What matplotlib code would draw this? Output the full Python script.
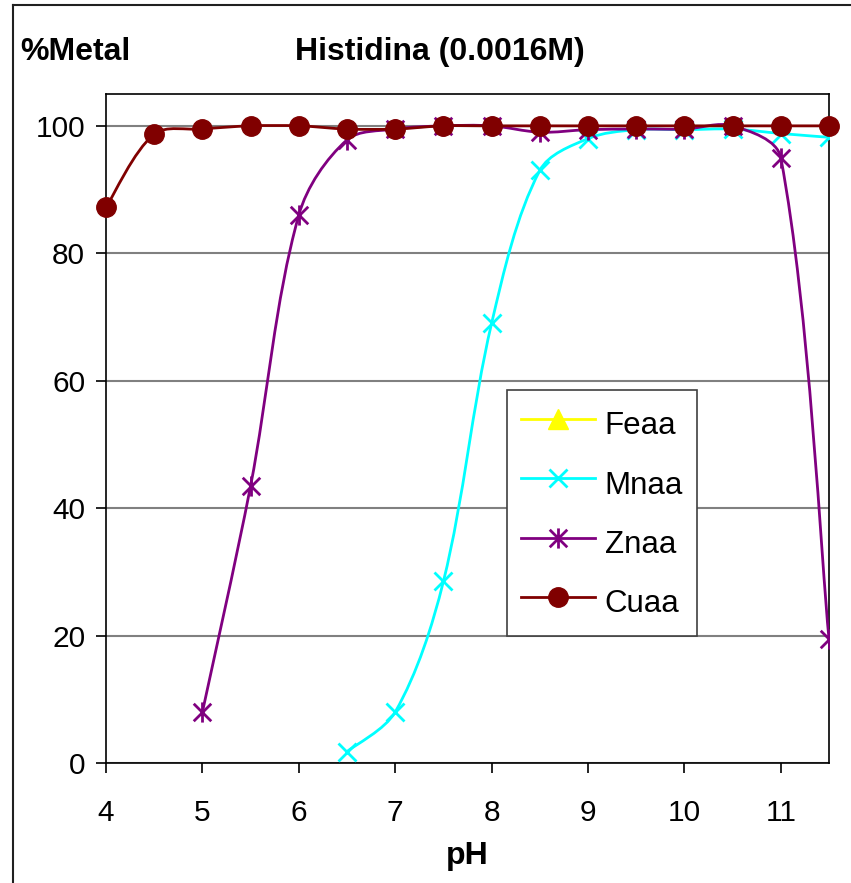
import matplotlib
matplotlib.use("Agg")
import matplotlib.pyplot as plt
import numpy as np
from matplotlib.path import Path
from matplotlib.patches import PathPatch
from matplotlib.lines import Line2D

plt.rcParams['font.family'] = ['Liberation Sans', 'DejaVu Sans']

# pH values and % metal complexed for each metal
ph_fe = []
pct_fe = []

ph_mn = [6.5, 7.0, 7.5, 8.0, 8.5, 9.0, 9.5, 10.0, 10.5, 11.0, 11.5]
pct_mn = [1.8, 8.0, 28.5, 69.0, 93.0, 98.0, 99.4, 99.4, 99.5, 98.8, 98.2]

ph_zn = [5.0, 5.5, 6.0, 6.5, 7.0, 7.5, 8.0, 8.5, 9.0, 9.5, 10.0, 10.5, 11.0, 11.5]
pct_zn = [8.0, 43.5, 86.0, 97.8, 99.5, 100.0, 100.0, 99.0, 99.4, 99.5, 99.5, 100.0, 95.0, 19.5]

ph_cu = [4.0, 4.5, 5.0, 5.5, 6.0, 6.5, 7.0, 7.5, 8.0, 8.5, 9.0, 9.5, 10.0, 10.5, 11.0, 11.5]
pct_cu = [87.2, 98.7, 99.5, 100.0, 100.0, 99.5, 99.5, 100.0, 100.0, 100.0, 100.0, 100.0, 100.0, 100.0, 100.0, 100.0]

series_names = ["Feaa", "Mnaa", "Znaa", "Cuaa"]
x_ticks = [4, 5, 6, 7, 8, 9, 10, 11]
y_ticks = [0, 20, 40, 60, 80, 100]

FE_C = "#FFFF00"
MN_C = "#00FFFF"
ZN_C = "#800080"
CU_C = "#800000"

# six-armed star marker: an X crossed by a vertical stroke
star = Path([(-0.87, -0.87), (0.87, 0.87), (-0.87, 0.87), (0.87, -0.87), (0, -1), (0, 1)],
            [Path.MOVETO, Path.LINETO, Path.MOVETO, Path.LINETO, Path.MOVETO, Path.LINETO])


def smooth_path(ax, x, y):
    """Smoothed line through the points: cubic Bezier segments whose tangents
    are weighted by neighbouring segment lengths on screen."""
    pts = ax.transData.transform(np.column_stack([x, y]).astype(float))
    n = len(pts)
    verts = [pts[0]]
    codes = [Path.MOVETO]
    for i in range(n - 1):
        p0 = pts[i - 1] if i > 0 else pts[i]
        p1, p2 = pts[i], pts[i + 1]
        p3 = pts[i + 2] if i + 2 < n else pts[i + 1]
        d01 = np.hypot(*(p1 - p0))
        d12 = np.hypot(*(p2 - p1))
        d23 = np.hypot(*(p3 - p2))
        f1 = d12 / (3.0 * (d01 + d12)) if d01 + d12 > 0 else 0.0
        f2 = d12 / (3.0 * (d12 + d23)) if d12 + d23 > 0 else 0.0
        if i == 0:
            f1 = 1.0 / 6.0
        if i + 2 >= n:
            f2 = 1.0 / 6.0
        c1 = p1 + (p2 - p0) * f1
        c2 = p2 - (p3 - p1) * f2
        verts += [c1, c2, p2]
        codes += [Path.CURVE4] * 3
    data_verts = ax.transData.inverted().transform(np.array(verts))
    return Path(data_verts, codes)


fig = plt.figure(figsize=(8.51, 8.83), dpi=100)
W, H = 851, 883
ax = fig.add_axes([106 / W, 1 - 763 / H, (829 - 106) / W, (763 - 94) / H])
ax.set_xlim(4, 11.5)
ax.set_ylim(0, 105)

LW = 2.0
for xs, ys, col, z in [(ph_mn, pct_mn, MN_C, 3), (ph_zn, pct_zn, ZN_C, 4), (ph_cu, pct_cu, CU_C, 5)]:
    ax.add_patch(PathPatch(smooth_path(ax, xs, ys), facecolor="none", edgecolor=col,
                           lw=LW, zorder=z, capstyle="round", joinstyle="round"))

ax.plot(ph_fe, pct_fe, ls="none", marker="^", color=FE_C, ms=14, zorder=2)
ax.plot(ph_mn, pct_mn, ls="none", marker="x", color=MN_C, ms=12.5, mew=2.0, zorder=3)
ax.plot(ph_zn, pct_zn, ls="none", marker=star, color=ZN_C, mfc="none", ms=14.5, mew=2.0, zorder=4)
ax.plot(ph_cu, pct_cu, ls="none", marker="o", color=CU_C, ms=14, zorder=5, clip_on=False)

ax.set_xticks(x_ticks)
ax.set_yticks(y_ticks)
ax.yaxis.grid(True, color="#808080", lw=1.5)
ax.set_axisbelow(True)
for s in ax.spines.values():
    s.set_color("black")
    s.set_linewidth(1.2)
ax.tick_params(axis="both", direction="out", length=7, width=1.2, labelsize=21.5, color="black")
ax.tick_params(axis="x", pad=19)
ax.tick_params(axis="y", pad=8)

ax.set_xlabel("pH", fontsize=23, fontweight="bold", labelpad=10)
fig.text(440 / W, 1 - 52 / H, "Histidina (0.0016M)", ha="center", va="center",
         fontsize=23, fontweight="bold")
fig.text(20 / W, 1 - 52 / H, "%Metal", ha="left", va="center", fontsize=23, fontweight="bold")

handles = [
    Line2D([], [], color=FE_C, lw=LW, marker="^", ms=14),
    Line2D([], [], color=MN_C, lw=LW, marker="x", ms=12.5, mew=2.0),
    Line2D([], [], color=ZN_C, lw=LW, marker=star, mfc="none", ms=14.5, mew=2.0),
    Line2D([], [], color=CU_C, lw=LW, marker="o", ms=14),
]
leg = ax.legend(handles, series_names, loc="upper left",
                bbox_to_anchor=((507 - 106) / 723, (763 - 390) / 669),
                borderaxespad=0, fontsize=22.5, frameon=True, fancybox=False,
                handlelength=2.35, handleheight=1.6, handletextpad=0.32, borderpad=0.45,
                labelspacing=0.61, framealpha=1)
leg.get_frame().set_edgecolor("#404040")
leg.get_frame().set_linewidth(1.2)
leg.set_zorder(10)

# outer chart frame (top and left edges)
fig.add_artist(Line2D([12.5 / W, 12.5 / W], [0, 1 - 5 / H], transform=fig.transFigure,
                      color="#202020", lw=1.5))
fig.add_artist(Line2D([12.5 / W, 1], [1 - 5 / H, 1 - 5 / H], transform=fig.transFigure,
                      color="#202020", lw=1.5))

fig.savefig("out.png", dpi=100)
